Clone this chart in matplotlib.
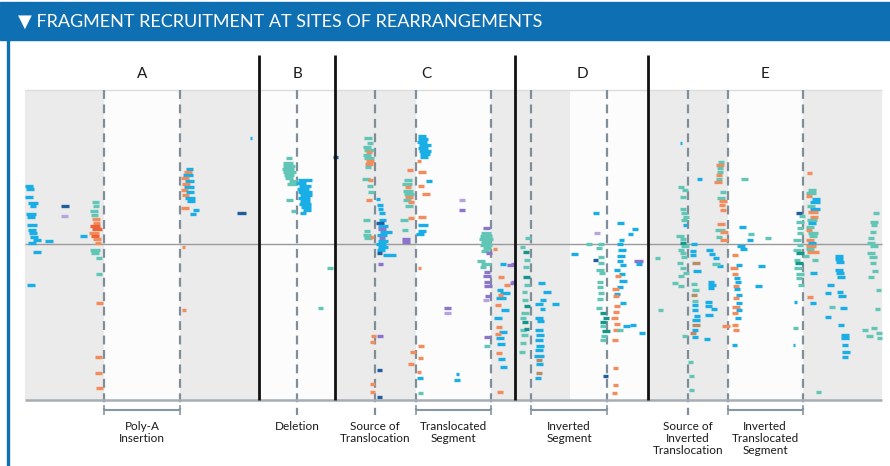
import matplotlib
matplotlib.use('Agg')
import matplotlib.pyplot as plt

plt.rcParams['font.family'] = ['Lato', 'DejaVu Sans']

# --- layout data (chart units = reference pixels) ---
title = '\u25BC FRAGMENT RECRUITMENT AT SITES OF REARRANGEMENTS'
panel_names = ['A', 'B', 'C', 'D', 'E']
panel_label_x = [142, 297, 426, 582, 765]
panel_dividers = [259, 335, 515, 648]
grey_spans = [(25, 104), (180, 259), (335, 416), (491, 515), (516, 570), (648, 728), (803, 882)]
dashed_x = [104, 180, 297, 375, 416, 491, 531, 607, 688, 728, 803]
brackets = [(104, 180), (416, 491), (531, 607), (728, 803)]
single_marks = [297, 375, 688]
site_labels = ['Poly-A\nInsertion', 'Deletion', 'Source of\nTranslocation', 'Translocated\nSegment',
               'Inverted\nSegment', 'Source of\nInverted\nTranslocation', 'Inverted\nTranslocated\nSegment']
site_label_x = [142, 297, 375, 453, 569, 688, 765]

colors = {'b': '#1aaee6', 't': '#62c6b6', 'o': '#f28c5c', 'r': '#ec6436', 'p': '#8a74cc',
          'l': '#b7a4dc', 'd': '#1f5d9c', 'g': '#14968a', 'n': '#b88c68'}

# fragments: (start, row, length, colour)
frags_a = [
    (25, 186, 8, 'b'), (26, 189, 8, 'b'), (25, 197, 8, 'b'), (28, 203, 10, 'b'), (30, 206, 6, 'b'),
    (26, 214, 10, 'b'), (27, 217, 8, 'b'), (27, 225, 10, 'b'), (28, 230, 8, 'b'), (29, 233, 8, 'b'),
    (30, 237, 8, 'b'), (33, 240, 8, 'b'), (28, 243, 8, 'b'), (45, 241, 8, 'b'), (33, 252, 8, 'b'),
    (27, 285, 8, 'b'), (61, 206, 8, 'd'), (61, 216, 7, 'l'), (80, 236, 7, 'b'),
    (92, 202, 7, 't'), (93, 206, 6, 't'), (90, 211, 8, 't'), (91, 215, 7, 't'),
    (92, 219, 8, 'o'), (93, 223, 7, 'o'), (90, 226, 10, 'r'), (92, 229, 10, 'r'), (89, 233, 10, 'o'),
    (91, 236, 8, 'r'), (93, 239, 8, 'o'), (95, 243, 6, 'o'),
    (90, 250, 10, 't'), (91, 253, 8, 't'), (96, 258, 6, 't'), (96, 274, 6, 't'),
    (96, 303, 7, 'o'), (95, 357, 7, 'o'), (95, 373, 7, 'o'), (96, 388, 7, 'o'),
    (186, 169, 7, 'b'), (184, 172, 8, 'o'), (183, 175, 10, 'b'), (181, 178, 8, 'o'), (185, 181, 9, 'b'),
    (182, 184, 8, 'o'), (184, 187, 10, 'b'), (181, 190, 7, 'o'), (186, 192, 8, 'b'), (182, 195, 7, 'o'),
    (185, 198, 10, 'b'), (187, 201, 8, 'b'), (181, 208, 8, 'o'), (193, 210, 6, 'b'), (190, 214, 6, 'b'),
    (182, 247, 3, 'o'), (182, 310, 4, 'o'), (237, 213, 9, 'd'), (250, 138, 2, 'b'),
]
frags_b = [
    (286, 158, 6, 't'), (283, 163, 10, 't'), (283, 166, 12, 't'), (282, 169, 12, 't'), (283, 172, 13, 't'),
    (284, 175, 10, 't'), (285, 178, 8, 't'), (289, 181, 8, 't'), (287, 184, 10, 't'), (286, 200, 7, 't'),
    (291, 211, 5, 't'),
    (298, 180, 14, 'b'), (296, 183, 10, 'b'), (299, 186, 12, 'b'), (297, 189, 12, 'b'), (298, 192, 14, 'b'),
    (300, 195, 12, 'b'), (298, 198, 12, 'b'), (300, 201, 10, 'b'), (299, 204, 12, 'b'), (301, 207, 10, 'b'),
    (303, 210, 8, 'b'), (300, 213, 6, 'b'), (327, 268, 6, 't'), (318, 308, 5, 't'), (333, 157, 5, 'd'),
]
frags_c = [
    (364, 138, 8, 't'), (367, 143, 6, 't'), (363, 147, 8, 't'), (364, 150, 10, 't'), (366, 152, 6, 'o'),
    (363, 155, 8, 't'), (364, 158, 10, 't'), (366, 161, 8, 'o'), (365, 164, 8, 'o'), (365, 167, 6, 't'),
    (362, 179, 8, 't'), (368, 180, 5, 'o'), (367, 186, 6, 't'), (368, 192, 6, 't'), (366, 200, 6, 'o'),
    (376, 199, 4, 'b'), (363, 220, 7, 't'), (364, 231, 6, 't'), (363, 235, 8, 't'), (364, 238, 8, 't'),
    (370, 237, 4, 'o'),
    (377, 205, 6, 'b'), (378, 209, 5, 'b'), (379, 213, 6, 'b'), (379, 220, 7, 'b'), (376, 223, 8, 'd'),
    (378, 226, 10, 'b'), (378, 229, 8, 'p'), (380, 232, 12, 'b'), (377, 235, 10, 'b'), (379, 238, 6, 'p'),
    (378, 241, 10, 'b'), (376, 244, 10, 'b'), (378, 247, 10, 'b'), (377, 250, 8, 'b'), (377, 253, 5, 'd'),
    (383, 255, 13, 'b'), (378, 264, 5, 'p'),
    (404, 180, 8, 't'), (402, 184, 10, 't'), (405, 187, 6, 'o'), (403, 191, 10, 't'), (404, 194, 10, 't'),
    (405, 197, 8, 'o'), (403, 200, 8, 't'), (408, 202, 6, 'o'), (405, 206, 8, 't'), (407, 170, 6, 'o'),
    (408, 218, 6, 'o'), (400, 220, 8, 't'), (402, 230, 6, 't'), (402, 239, 8, 'p'), (402, 242, 8, 'p'),
    (418, 136, 8, 'b'), (418, 139, 10, 'b'), (417, 142, 10, 'b'), (419, 145, 12, 'b'), (418, 148, 10, 'b'),
    (419, 151, 12, 'b'), (420, 154, 10, 'b'), (420, 157, 8, 'b'), (417, 161, 4, 'o'), (418, 172, 8, 'o'),
    (426, 181, 6, 'b'), (418, 186, 6, 'o'), (422, 194, 8, 'o'), (418, 217, 8, 'o'), (418, 225, 10, 'b'),
    (418, 231, 8, 'b'), (416, 234, 8, 'b'), (418, 268, 3, 'o'),
    (456, 374, 3, 'b'), (454, 380, 6, 'b'), (459, 200, 6, 'l'), (459, 210, 6, 'p'),
    (444, 308, 7, 'p'), (444, 313, 7, 'l'),
    (371, 336, 5, 'o'), (377, 336, 6, 'p'), (370, 342, 5, 'o'), (377, 370, 5, 'd'), (370, 384, 5, 'o'),
    (370, 392, 5, 'o'), (377, 397, 5, 'd'),
    (418, 346, 6, 'o'), (410, 352, 6, 'o'), (418, 358, 5, 'o'), (408, 364, 6, 'o'), (417, 372, 4, 'o'),
    (417, 378, 6, 'b'), (418, 393, 5, 't'),
    (483, 228, 7, 'p'), (481, 233, 10, 't'), (480, 236, 12, 't'), (479, 239, 14, 't'), (481, 242, 10, 't'),
    (480, 245, 12, 't'), (483, 248, 8, 't'), (481, 251, 8, 't'), (493, 249, 4, 'o'), (486, 253, 6, 'p'),
    (477, 261, 8, 't'), (481, 264, 10, 't'), (480, 267, 6, 't'), (500, 264, 6, 'b'), (507, 265, 7, 'p'),
    (484, 272, 6, 'p'), (483, 276, 8, 'p'), (484, 282, 6, 'p'), (484, 286, 8, 'p'), (485, 296, 6, 'p'),
    (483, 300, 6, 'l'), (498, 277, 6, 'o'), (504, 285, 6, 'o'), (510, 283, 6, 'p'),
    (497, 290, 6, 'b'), (500, 293, 10, 'b'), (496, 298, 10, 'b'), (498, 295, 5, 'o'), (501, 310, 8, 'b'),
    (495, 305, 6, 'o'), (494, 318, 8, 'b'), (499, 332, 8, 'b'), (496, 338, 8, 'b'), (497, 344, 8, 'b'),
    (498, 359, 7, 'b'), (500, 367, 7, 'b'), (495, 334, 6, 'o'), (496, 327, 6, 'o'), (496, 353, 6, 'o'),
    (497, 392, 6, 'o'), (484, 337, 6, 'p'), (484, 346, 6, 't'),
]
frags_d = [
    (525, 238, 6, 't'), (520, 247, 5, 't'), (523, 252, 6, 'g'), (524, 260, 6, 't'), (523, 267, 6, 't'),
    (523, 277, 7, 'g'), (524, 285, 6, 't'), (522, 292, 5, 't'), (522, 300, 6, 't'), (524, 306, 6, 'g'),
    (521, 313, 8, 't'), (520, 318, 6, 't'), (522, 322, 6, 'g'), (520, 330, 6, 't'), (521, 335, 7, 't'),
    (524, 329, 5, 'g'), (520, 343, 6, 't'), (519, 352, 6, 't'), (511, 264, 4, 'p'), (511, 282, 4, 'p'),
    (538, 283, 7, 'b'), (543, 292, 8, 'b'), (540, 300, 6, 'b'), (535, 304, 8, 'b'), (552, 304, 7, 'b'),
    (540, 309, 5, 'b'), (535, 318, 8, 'b'), (537, 321, 7, 'b'), (535, 330, 8, 'b'), (536, 335, 8, 'b'),
    (535, 340, 8, 'b'), (536, 346, 8, 'b'), (535, 350, 8, 'b'), (534, 356, 10, 'b'), (536, 360, 6, 'n'),
    (536, 364, 7, 'b'), (536, 373, 6, 'n'), (535, 378, 6, 'b'), (571, 254, 7, 'b'),
    (593, 213, 6, 'b'), (594, 233, 6, 'l'), (586, 244, 6, 't'), (598, 244, 6, 't'), (596, 248, 6, 't'),
    (593, 260, 5, 'd'), (598, 257, 6, 't'), (598, 263, 6, 't'), (596, 270, 8, 't'), (599, 273, 6, 't'),
    (597, 282, 6, 't'), (597, 287, 6, 't'), (598, 293, 6, 't'), (597, 299, 6, 't'), (596, 308, 6, 't'),
    (600, 313, 6, 'g'), (603, 318, 6, 'g'), (600, 322, 6, 'g'), (600, 326, 6, 't'), (602, 331, 8, 'g'),
    (601, 336, 6, 't'), (600, 340, 6, 't'), (603, 376, 5, 'd'),
    (617, 223, 7, 'b'), (632, 229, 6, 'b'), (628, 234, 5, 'b'), (619, 240, 5, 'b'), (617, 244, 6, 'b'),
    (618, 250, 8, 'b'), (617, 256, 8, 'b'), (617, 261, 6, 'b'), (620, 265, 6, 'b'), (614, 270, 6, 'b'),
    (619, 274, 6, 'b'), (619, 281, 8, 'b'), (617, 287, 6, 'b'), (614, 294, 6, 'b'), (620, 303, 6, 'b'),
    (615, 276, 6, 'o'), (612, 289, 7, 'o'), (613, 296, 6, 'o'), (614, 306, 6, 'o'), (613, 312, 6, 'o'),
    (611, 318, 7, 'o'), (614, 324, 6, 'o'), (613, 330, 6, 'o'), (612, 340, 6, 'o'), (613, 368, 5, 'o'),
    (613, 385, 5, 'o'), (612, 393, 5, 'o'), (623, 326, 7, 'b'), (630, 325, 6, 'b'), (617, 330, 6, 't'),
    (634, 261, 9, 'p'), (636, 264, 6, 'b'), (639, 333, 6, 'b'),
]
frags_e = [
    (678, 187, 6, 't'), (682, 190, 6, 't'), (680, 197, 6, 't'), (680, 209, 6, 't'), (681, 213, 6, 't'),
    (683, 217, 6, 't'), (681, 220, 6, 't'), (683, 225, 4, 'b'), (676, 236, 8, 't'), (680, 239, 6, 't'),
    (680, 243, 6, 'g'), (681, 246, 8, 't'), (678, 250, 6, 't'), (680, 253, 6, 't'), (681, 257, 6, 't'),
    (677, 263, 6, 't'), (680, 268, 6, 't'), (683, 273, 6, 't'), (678, 276, 6, 't'), (672, 283, 6, 't'),
    (678, 286, 6, 't'), (655, 258, 5, 't'), (658, 310, 5, 't'), (682, 336, 5, 't'), (688, 362, 5, 't'),
    (689, 376, 5, 't'), (689, 390, 5, 't'), (680, 143, 2, 'b'),
    (691, 244, 6, 'b'), (690, 251, 6, 'b'), (690, 255, 6, 'b'), (692, 263, 8, 'n'), (693, 271, 8, 'b'),
    (691, 284, 6, 't'), (692, 290, 7, 't'), (691, 295, 6, 'n'), (692, 301, 6, 't'), (692, 305, 6, 'b'),
    (692, 310, 6, 'b'), (694, 316, 6, 'b'), (692, 320, 8, 'b'), (692, 325, 8, 'n'), (692, 330, 6, 'b'),
    (690, 333, 6, 'n'), (692, 337, 6, 'b'),
    (705, 302, 7, 'b'), (705, 306, 7, 'b'), (711, 309, 6, 'b'), (705, 315, 8, 'b'), (704, 339, 6, 'b'),
    (706, 250, 7, 'b'), (709, 254, 6, 'b'), (713, 258, 6, 'b'), (717, 266, 6, 'b'), (712, 264, 8, 't'),
    (708, 282, 6, 'b'), (708, 285, 8, 'b'), (708, 288, 6, 'b'),
    (718, 162, 6, 't'), (716, 165, 8, 'o'), (717, 168, 6, 't'), (717, 172, 6, 't'), (716, 175, 6, 'o'),
    (716, 179, 6, 't'), (714, 182, 8, 'o'), (720, 192, 6, 't'), (717, 198, 8, 't'), (719, 201, 8, 'o'),
    (719, 205, 6, 'o'), (720, 210, 6, 'o'), (717, 224, 8, 'o'), (715, 230, 10, 't'), (720, 232, 8, 'o'),
    (716, 237, 6, 't'), (720, 240, 8, 'o'), (697, 179, 5, 'b'),
    (741, 179, 7, 't'), (739, 227, 7, 'b'), (748, 234, 6, 't'), (747, 240, 6, 'b'), (765, 238, 6, 't'),
    (737, 246, 8, 'b'), (740, 249, 7, 'b'), (732, 255, 6, 'o'), (730, 268, 8, 'o'), (736, 265, 6, 'b'),
    (732, 274, 6, 'o'), (734, 278, 6, 'b'), (735, 282, 6, 'b'), (733, 286, 6, 'o'), (734, 289, 6, 'b'),
    (736, 295, 6, 'b'), (733, 298, 6, 'o'), (736, 303, 6, 'b'), (732, 307, 8, 'o'), (736, 310, 6, 'b'),
    (732, 313, 6, 'o'), (735, 318, 6, 'b'), (732, 325, 6, 'o'), (733, 330, 6, 'o'), (732, 345, 5, 'b'),
    (722, 326, 8, 'o'), (758, 266, 7, 'b'), (755, 286, 7, 'b'),
    (796, 213, 6, 'd'), (799, 216, 6, 't'), (796, 222, 8, 't'), (797, 228, 6, 't'), (797, 233, 6, 't'),
    (793, 240, 8, 't'), (797, 245, 6, 't'), (793, 250, 8, 't'), (796, 253, 8, 'g'), (794, 260, 6, 't'),
    (795, 263, 8, 'g'), (794, 268, 8, 't'), (796, 274, 8, 't'), (796, 278, 6, 't'), (798, 285, 6, 't'),
    (793, 328, 5, 't'), (794, 302, 3, 'b'), (793, 345, 2, 'b'),
    (807, 173, 5, 'o'), (808, 190, 8, 't'), (806, 193, 10, 't'), (806, 196, 6, 'o'), (812, 199, 8, 'b'),
    (810, 202, 10, 'b'), (807, 206, 8, 't'), (810, 209, 10, 'b'), (808, 212, 10, 'o'), (810, 217, 8, 'o'),
    (807, 220, 10, 't'), (808, 223, 8, 'b'), (806, 227, 8, 't'), (806, 230, 6, 'o'), (808, 233, 10, 't'),
    (809, 236, 8, 't'), (806, 240, 8, 'o'), (808, 243, 8, 'b'), (806, 246, 10, 'o'), (806, 249, 8, 't'),
    (807, 252, 12, 'o'), (803, 256, 6, 't'), (812, 260, 6, 't'), (810, 273, 7, 'b'), (807, 297, 6, 'o'),
    (810, 303, 6, 'b'),
    (835, 256, 8, 'b'), (835, 259, 8, 'b'), (836, 262, 8, 'b'), (835, 270, 8, 'b'), (836, 273, 8, 'b'),
    (837, 277, 8, 'b'), (827, 285, 7, 'b'), (825, 293, 6, 'b'), (837, 292, 6, 'b'), (838, 296, 8, 'b'),
    (840, 308, 7, 'b'), (825, 317, 6, 'b'), (838, 325, 6, 'b'), (841, 335, 8, 'b'), (841, 338, 8, 'b'),
    (842, 345, 6, 'b'), (842, 352, 8, 'b'), (842, 357, 6, 'b'), (829, 307, 6, 't'), (816, 392, 5, 't'),
    (873, 213, 6, 't'), (870, 222, 8, 't'), (871, 225, 6, 't'), (870, 232, 6, 't'), (868, 238, 6, 't'),
    (867, 243, 8, 't'), (870, 246, 8, 't'), (867, 253, 8, 't'), (869, 257, 8, 't'), (870, 263, 6, 't'),
    (872, 271, 6, 't'), (868, 277, 6, 't'), (876, 290, 5, 't'), (875, 309, 5, 't'), (862, 330, 6, 't'),
    (866, 336, 7, 't'), (871, 328, 6, 't'), (876, 333, 6, 't'), (877, 338, 5, 't'),
]

# --- figure ---
fig = plt.figure(figsize=(8.9, 4.66), dpi=100)
ax = fig.add_axes([0, 0, 1, 1])
ax.set_xlim(0, 890)
ax.set_ylim(466, 0)
ax.axis('off')

# header bar and frame
ax.axhspan(2, 40, color='#0f6fb3', zorder=0)
ax.text(18, 22, title, color='white', fontsize=13, va='center', ha='left')
ax.vlines(7.5, 40, 466, color='#0f6fb3', lw=2.4)

# background band
ax.fill_between([25, 882], 90, 400, color='#fcfcfc', zorder=0)
for x0, x1 in grey_spans:
    ax.fill_between([x0, x1], 90, 400, color='#ebebeb', lw=0, zorder=0)
ax.hlines(90, 25, 882, color='#dcdcdc', lw=1)
ax.hlines(400, 25, 882, color='#a6adb3', lw=1.8, zorder=5)
ax.hlines(244, 25, 882, color='#9a9a9a', lw=1, zorder=1)

# dashed site lines
for x in dashed_x:
    bottom = 415 if x in single_marks else 410
    ax.vlines(x, 90, bottom, color='#7f8e99', lw=1.6, linestyles=(0, (4, 2.5)), zorder=2)
for x0, x1 in brackets:
    ax.hlines(410, x0, x1, color='#8797a2', lw=1.5)
    ax.vlines([x0, x1], 405, 415, color='#8797a2', lw=1.2)

# panel dividers and titles
ax.vlines(panel_dividers, 55, 400, color='#111111', lw=2, zorder=6)
for name, x in zip(panel_names, panel_label_x):
    ax.text(x, 74, name, fontsize=11, ha='center', va='center', color='#1a1a1a')

# fragments
for frags in [frags_a, frags_b, frags_c, frags_d, frags_e]:
    for x, y, w, c in frags:
        ax.hlines(y, x, x + w, color=colors[c], lw=2.4, capstyle='butt', zorder=3)

# site labels
for lab, x in zip(site_labels, site_label_x):
    ax.text(x, 421, lab, fontsize=8.5, ha='center', va='top', color='#1a1a1a', linespacing=1.12)

fig.savefig('out.png', dpi=100)
